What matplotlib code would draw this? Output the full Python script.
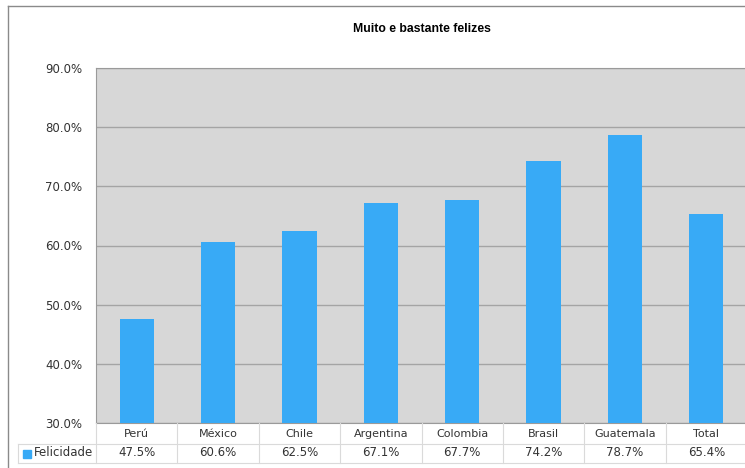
import matplotlib.pyplot as plt
import matplotlib.transforms as mtransforms
from matplotlib.patches import Rectangle
from matplotlib.lines import Line2D

paises = ["Perú", "México", "Chile", "Argentina", "Colombia", "Brasil", "Guatemala", "Total"]
felicidade = [47.5, 60.6, 62.5, 67.1, 67.7, 74.2, 78.7, 65.4]
serie = "Felicidade"
titulo = "Muito e bastante felizes"

W, H = 745, 468
fig = plt.figure(figsize=(W / 100, H / 100), dpi=100)
fig.patch.set_facecolor("white")

def fx(px):
    return px / W

def fy(py):
    return 1 - py / H

# plot area (runs slightly past the right edge)
left, top, bottom, right = 96, 68, 423, 747
ax = fig.add_axes([fx(left), fy(bottom), fx(right - left), (bottom - top) / H])
ax.set_facecolor("#d7d7d7")

x = list(range(len(paises)))
ax.bar(x, felicidade, width=0.42, color="#38aaf6", zorder=3, bottom=0)
ax.set_xlim(-0.5, len(paises) - 0.5)
ax.set_ylim(30, 90)
ax.set_yticks(range(30, 91, 10))
ax.set_yticklabels(["%.1f%%" % v for v in range(30, 91, 10)], fontsize=8.5, color="#333333")
ax.tick_params(axis="y", length=0, pad=10)
ax.set_xticks([])
ax.grid(axis="y", color="#a4a4a4", linewidth=1, zorder=1)
for s in ax.spines.values():
    s.set_color("#9a9a9a")
ax.spines["right"].set_visible(False)

fig.text(0.5 * (fx(left) + fx(right)), fy(29), titulo, ha="center", va="center",
         fontsize=8.8, fontweight="bold", family="Liberation Sans")

# data table below the plot
trans = mtransforms.blended_transform_factory(ax.transData, fig.transFigure)
row1 = fy(434)
row2 = fy(453)
for i, (p, v) in enumerate(zip(paises, felicidade)):
    ax.text(i, row1, p, transform=trans, ha="center", va="center", fontsize=8, color="#333333", clip_on=False)
    ax.text(i, row2, "%.1f%%" % v, transform=trans, ha="center", va="center", fontsize=8.5, color="#333333", clip_on=False)

line_color = "#dadada"
for yy in [444, 463]:
    fig.add_artist(Line2D([fx(18), fx(760)], [fy(yy), fy(yy)], color=line_color, lw=0.8))
for i in range(len(paises) + 1):
    xp = left + i * (right - left) / len(paises)
    fig.add_artist(Line2D([fx(xp), fx(xp)], [fy(423), fy(463)], color=line_color, lw=0.8))
fig.add_artist(Line2D([fx(18), fx(18)], [fy(444), fy(463)], color=line_color, lw=0.8))

fig.add_artist(Rectangle((fx(23), fy(458)), fx(8), 8 / H, color="#38aaf6"))
fig.text(fx(34), row2, serie, ha="left", va="center", fontsize=8.5, color="#333333")

# outer frame
fig.add_artist(Line2D([fx(8), fx(8)], [fy(6), 0], color="#8a8a8a", lw=1))
fig.add_artist(Line2D([fx(8), 1], [fy(6), fy(6)], color="#8a8a8a", lw=1))

fig.savefig("out.png", dpi=100)
